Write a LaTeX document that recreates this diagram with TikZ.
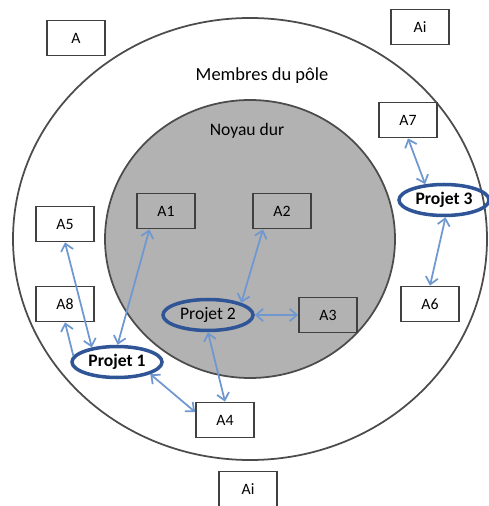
\documentclass[tikz,border=0pt]{standalone}
\usepackage{fontspec}
\setmainfont{Carlito}
\usetikzlibrary{shapes.geometric,arrows.meta}
\definecolor{gris}{RGB}{178,178,178}
\definecolor{bleu}{RGB}{47,85,151}
\definecolor{bleuclair}{RGB}{112,152,208}
\begin{document}
\begin{tikzpicture}[x=0.02cm,y=-0.02cm,
    boite/.style={draw=black!75,line width=1pt,minimum width=1.16cm,minimum height=0.7cm,font=\fontsize{9}{10}\selectfont},
    projet/.style={ellipse,draw=bleu,line width=2pt,minimum width=1.8cm,minimum height=0.62cm,inner sep=0pt,font=\fontsize{10}{12}\selectfont},
    lien/.style={{Straight Barb[length=4pt,width=7pt]}-{Straight Barb[length=4pt,width=7pt]},draw=bleuclair,line width=1pt}]
        \useasboundingbox (0,0) rectangle (488,506);
        \draw[line width=1pt,black!70] (250,239) ellipse [x radius=237,y radius=221];
        \draw[line width=1pt,black!70,fill=gris] (250,239) ellipse [x radius=145,y radius=139];
        \node[font=\fontsize{10.5}{12}\selectfont] (membres) at (262,76) {Membres du pôle};
        \node[font=\fontsize{10}{12}\selectfont] (noyau) at (247,131) {Noyau dur};
        % acteurs
        \node[boite] (A) at (76,38) {A};
        \node[boite] (Ai1) at (420,27) {Ai};
        \node[boite] (Ai2) at (248,489) {Ai};
        \node[boite] (A1) at (166,211) {A1};
        \node[boite] (A2) at (282,211) {A2};
        \node[boite] (A3) at (328,315) {A3};
        \node[boite] (A4) at (225,420) {A4};
        \node[boite] (A5) at (65,224) {A5};
        \node[boite] (A6) at (430,304) {A6};
        \node[boite] (A7) at (408,120) {A7};
        \node[boite] (A8) at (65,304) {A8};
        % projets
        \node[projet,font=\bfseries\fontsize{10}{12}\selectfont] (P1) at (117,362) {Projet 1};
        \node[projet] (P2) at (208,315) {Projet 2};
        \node[projet,font=\bfseries\fontsize{10}{12}\selectfont] (P3) at (444,200) {Projet 3};
        % liens
        \draw[lien] (A5.south) -- (P1.150);
        \draw[lien,{Straight Barb[length=4pt,width=7pt]}-] (A8.south) -- (P1.172);
        \draw[lien] (A1.-132) -- (P1.88);
        \draw[lien] (P1.-20) -- (A4.165);
        \draw[lien] (P2.south) -- (A4.north);
        \draw[lien] (P2.20) -- (A2.-136);
        \draw[lien] (P2.east) -- (A3.west);
        \draw[lien] (A7.south) -- (P3.140);
        \draw[lien] (P3.-85) -- (A6.north);
    \end{tikzpicture}
\end{document}
